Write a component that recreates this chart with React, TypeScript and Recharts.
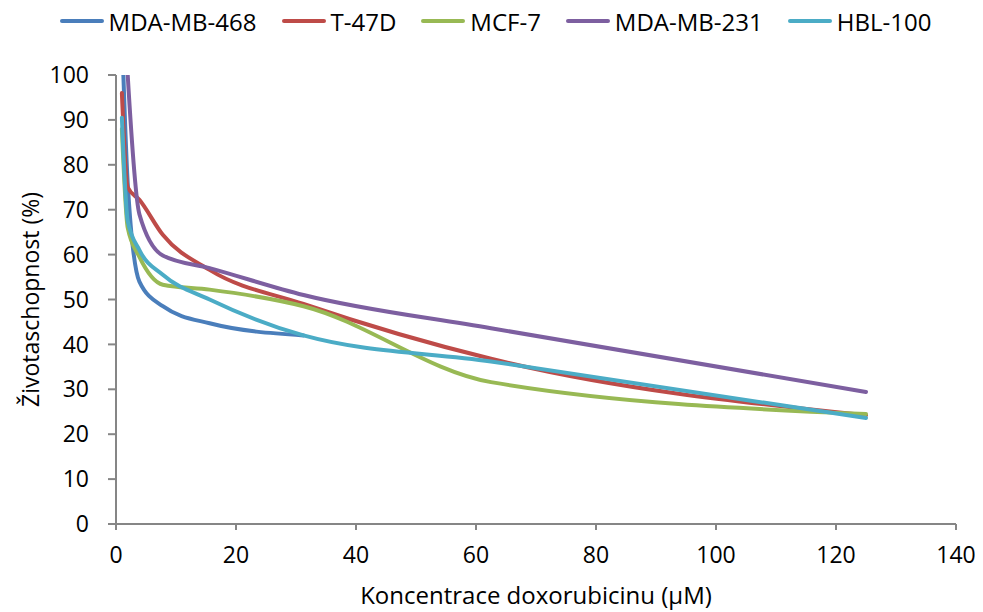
import React from "react";
import { LineChart, Line, XAxis, YAxis } from "recharts";

const concentrations = [0.98, 1.95, 3.9, 7.8, 15.6, 31.25, 62.5, 125];
const seriesNames = ["MDA-MB-468", "T-47D", "MCF-7", "MDA-MB-231", "HBL-100"];
const seriesColors = ["#4A7EBB", "#BE4B48", "#98B954", "#7D5FA0", "#4BACC6"];
const mdaMb468 = [110, 76, 54, 48.5, 44.7, 42, null, null];
const t47d = [96, 75, 72.2, 64.4, 56.6, 49, 36.8, 24.2];
const mcf7 = [88, 66, 59.5, 53.3, 52.2, 48.5, 31.6, 24.5];
const mdaMb231 = [125, 100, 69, 59.8, 57, 51, 43.6, 29.4];
const hbl100 = [90.5, 67.5, 61, 55.5, 50, 42, 36.2, 23.6];
const seriesValues = [mdaMb468, t47d, mcf7, mdaMb231, hbl100];
const xTicks = [0, 20, 40, 60, 80, 100, 120, 140];
const yTicks = [0, 10, 20, 30, 40, 50, 60, 70, 80, 90, 100];

const FONT = "'Open Sans', Lato, sans-serif";

const seriesData = seriesValues.map((vals) =>
  concentrations
    .map((c, i) => ({ x: c, y: vals[i] }))
    .filter((d) => d.y !== null)
);

const YLabel = (props: any) => {
  const vb = props.viewBox || {};
  const x = vb.x + 14;
  const y = vb.y + vb.height / 2;
  return (
    <text
      x={x}
      y={y}
      transform={`rotate(-90, ${x}, ${y})`}
      textAnchor="middle"
      dominantBaseline="central"
      fontFamily={FONT}
      fontSize={23}
      fill="#000"
    >
      Životaschopnost (%)
    </text>
  );
};

export default function App() {
  return (
    <div style={{ position: "relative", width: 967, height: 604, fontFamily: FONT }}>
      <div
        style={{
          position: "absolute",
          top: -2,
          left: 0,
          width: 975,
          display: "flex",
          justifyContent: "center",
          gap: 25,
          alignItems: "center",
          height: 30,
        }}
      >
        {seriesNames.map((n, i) => (
          <div key={n} style={{ display: "flex", alignItems: "center" }}>
            <div
              style={{
                width: 44,
                height: 4,
                borderRadius: 2,
                background: seriesColors[i],
                marginRight: 5,
              }}
            />
            <span style={{ fontSize: 24, color: "#000" }}>{n}</span>
          </div>
        ))}
      </div>
      <LineChart
        width={967}
        height={604}
        margin={{ top: 67, right: 19, bottom: 0, left: 8 }}
      >
        <XAxis
          type="number"
          dataKey="x"
          domain={[0, 140]}
          ticks={xTicks}
          allowDataOverflow
          height={88}
          stroke="#868686"
          strokeWidth={2}
          tickSize={6}
          tickMargin={17}
          tick={{ fill: "#000", fontSize: 23, fontFamily: FONT }}
          label={{
            value: "Koncentrace doxorubicinu (µM)",
            position: "insideBottom",
            offset: 8,
            fill: "#000",
            fontSize: 24,
            fontFamily: FONT,
          }}
        />
        <YAxis
          type="number"
          dataKey="y"
          domain={[0, 100]}
          ticks={yTicks}
          allowDataOverflow
          width={100}
          stroke="#868686"
          strokeWidth={2}
          tickSize={8}
          tickMargin={19}
          tick={{ fill: "#000", fontSize: 23, fontFamily: FONT }}
          label={<YLabel />}
        />
        {seriesNames.map((n, i) => (
          <Line
            key={n}
            name={n}
            data={seriesData[i]}
            dataKey="y"
            type="monotone"
            stroke={seriesColors[i]}
            strokeWidth={4}
            strokeLinecap="round"
            dot={false}
            isAnimationActive={false}
          />
        ))}
      </LineChart>
    </div>
  );
}
